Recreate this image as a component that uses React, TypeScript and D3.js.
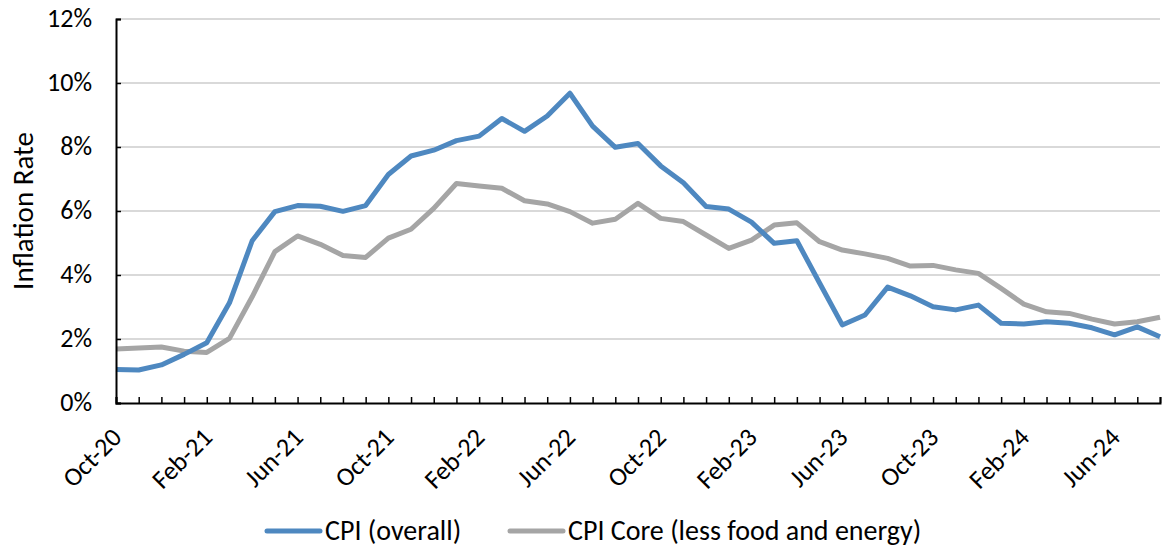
import React, { useEffect, useRef } from "react";
import * as d3 from "d3";

const months = [
  "Oct-20", "Nov-20", "Dec-20", "Jan-21", "Feb-21", "Mar-21", "Apr-21", "May-21", "Jun-21", "Jul-21",
  "Aug-21", "Sep-21", "Oct-21", "Nov-21", "Dec-21", "Jan-22", "Feb-22", "Mar-22", "Apr-22", "May-22",
  "Jun-22", "Jul-22", "Aug-22", "Sep-22", "Oct-22", "Nov-22", "Dec-22", "Jan-23", "Feb-23", "Mar-23",
  "Apr-23", "May-23", "Jun-23", "Jul-23", "Aug-23", "Sep-23", "Oct-23", "Nov-23", "Dec-23", "Jan-24",
  "Feb-24", "Mar-24", "Apr-24", "May-24", "Jun-24", "Jul-24", "Aug-24",
];

const cpiOverall = [
  1.05, 1.03, 1.19, 1.52, 1.88, 3.13, 5.07, 5.98, 6.17, 6.15,
  5.99, 6.17, 7.14, 7.72, 7.9, 8.2, 8.34, 8.89, 8.49, 8.97,
  9.68, 8.65, 7.99, 8.11, 7.41, 6.88, 6.14, 6.06, 5.65, 4.99,
  5.07, 3.75, 2.44, 2.75, 3.62, 3.35, 3.01, 2.91, 3.06, 2.49,
  2.47, 2.54, 2.49, 2.35, 2.13, 2.38, 2.07,
];

const cpiCore = [
  1.69, 1.72, 1.75, 1.62, 1.58, 2.02, 3.32, 4.73, 5.22, 4.96,
  4.61, 4.55, 5.15, 5.43, 6.08, 6.86, 6.78, 6.71, 6.32, 6.22,
  5.98, 5.62, 5.74, 6.24, 5.77, 5.67, 5.25, 4.83, 5.09, 5.56,
  5.63, 5.04, 4.78, 4.66, 4.52, 4.28, 4.3, 4.16, 4.05, 3.58,
  3.09, 2.85, 2.8, 2.62, 2.47, 2.54, 2.68,
];

const yTicks = [0, 2, 4, 6, 8, 10, 12];

const seriesList = [
  { name: "CPI (overall)", values: cpiOverall, color: "#4e88c0" },
  { name: "CPI Core (less food and energy)", values: cpiCore, color: "#a5a5a5" },
];

const FONT = "Carlito, Calibri, Lato, sans-serif";

const App: React.FC = () => {
  const svgRef = useRef<SVGSVGElement>(null);
  const width = 1162;
  const height = 548;

  useEffect(() => {
    if (!svgRef.current) return;
    const svg = d3.select(svgRef.current);
    svg.selectAll("*").remove();

    const left = 116;
    const right = 1160;
    const top = 19;
    const bottom = 403;

    const x = d3.scalePoint<string>().domain(months).range([left, right]);
    const y = d3.scaleLinear().domain([0, 12]).range([bottom, top]);

    // gridlines
    svg.append("g")
      .selectAll("line")
      .data(yTicks.filter(t => t > 0))
      .enter()
      .append("line")
      .attr("x1", left)
      .attr("x2", right)
      .attr("y1", d => y(d))
      .attr("y2", d => y(d))
      .attr("stroke", "#d9d9d9")
      .attr("stroke-width", 2);

    // lines
    const line = d3.line<number>()
      .x((_, i) => x(months[i]) as number)
      .y(d => y(d));

    seriesList.slice().reverse().forEach(s => {
      svg.append("path")
        .datum(s.values)
        .attr("fill", "none")
        .attr("stroke", s.color)
        .attr("stroke-width", 5)
        .attr("stroke-linejoin", "round")
        .attr("d", line);
    });

    // y axis
    const yAxis = d3.axisRight(y)
      .tickValues(yTicks)
      .tickSize(5)
      .tickFormat(() => "");
    const yg = svg.append("g").attr("transform", `translate(${left},0)`).call(yAxis);
    yg.select(".domain").attr("stroke", "#000").attr("stroke-width", 2);
    yg.selectAll(".tick line").attr("stroke", "#000").attr("stroke-width", 1.5);

    svg.append("g")
      .selectAll("text")
      .data(yTicks)
      .enter()
      .append("text")
      .attr("x", 92)
      .attr("y", d => y(d) + 8)
      .attr("text-anchor", "end")
      .attr("font-family", FONT)
      .attr("font-size", 26)
      .attr("fill", "#000")
      .text(d => `${d}%`);

    // x axis
    const xAxis = d3.axisTop(x).tickSize(6).tickFormat(() => "");
    const xg = svg.append("g").attr("transform", `translate(0,${bottom})`).call(xAxis);
    xg.select(".domain").attr("stroke", "#000").attr("stroke-width", 2);
    xg.selectAll(".tick line").attr("stroke", "#000").attr("stroke-width", 1.5);

    svg.append("g")
      .selectAll("text")
      .data(months.filter((_, i) => i % 4 === 0))
      .enter()
      .append("text")
      .attr("transform", d => `translate(${(x(d) as number) + 7},${bottom + 36}) rotate(-45)`)
      .attr("text-anchor", "end")
      .attr("font-family", FONT)
      .attr("font-size", 26)
      .attr("fill", "#000")
      .text(d => d);

    // y title
    svg.append("text")
      .attr("transform", `translate(33,211) rotate(-90)`)
      .attr("text-anchor", "middle")
      .attr("font-family", FONT)
      .attr("font-size", 29)
      .attr("fill", "#000")
      .text("Inflation Rate");

    // legend
    const legendX = [267, 510];
    seriesList.forEach((s, i) => {
      const g = svg.append("g").attr("transform", `translate(${legendX[i]},531)`);
      g.append("line")
        .attr("x1", 0)
        .attr("x2", 53)
        .attr("y1", 0)
        .attr("y2", 0)
        .attr("stroke", s.color)
        .attr("stroke-width", 5)
        .attr("stroke-linecap", "round");
      g.append("text")
        .attr("x", 58)
        .attr("y", 9)
        .attr("font-family", FONT)
        .attr("font-size", 28)
        .attr("fill", "#000")
        .text(s.name);
    });
  }, []);

  return (
    <svg
      ref={svgRef}
      width={width}
      height={height}
      style={{ position: "absolute", left: 0, top: 0, background: "#fff" }}
    />
  );
};

export default App;
